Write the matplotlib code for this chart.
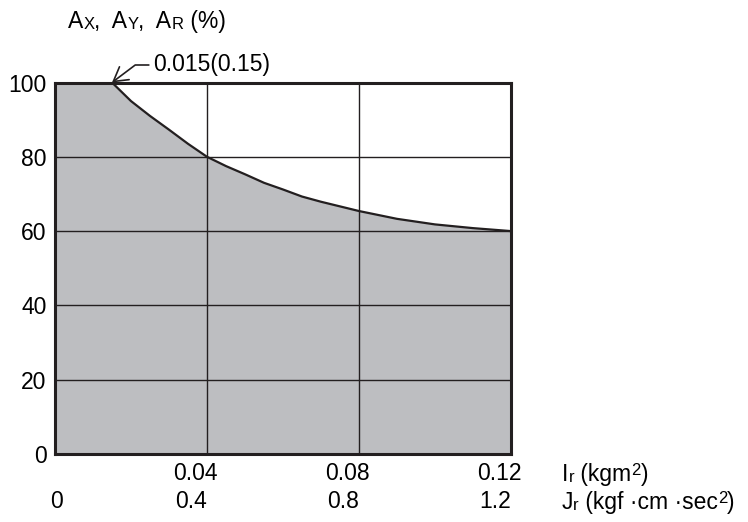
import matplotlib
matplotlib.use("Agg")
import matplotlib.pyplot as plt
import matplotlib.transforms as mtransforms

plt.rcParams['font.family'] = ['Liberation Sans', 'DejaVu Sans']

# curve: allowable acceleration (%) vs load inertia Ir (kgm2)
ir = [0.015, 0.02, 0.025, 0.03, 0.035, 0.04, 0.045, 0.05, 0.055, 0.06, 0.065,
      0.07, 0.08, 0.09, 0.10, 0.11, 0.12]
pct = [100, 95, 91, 87.3, 83.5, 80, 77.5, 75.3, 73, 71.2, 69.3,
       67.9, 65.4, 63.3, 61.8, 60.8, 60]

ir_ticks = [0.04, 0.08, 0.12]
ir_labels = ['0.04', '0.08', '0.12']
jr_ticks = [0, 0.04, 0.08, 0.12]
jr_labels = ['0', '0.4', '0.8', '1.2']
y_ticks = [0, 20, 40, 60, 80, 100]

FS = 16.5
SMALL = 12

fig = plt.figure(figsize=(7.48, 5.22), dpi=100)
ax = fig.add_axes([55/748, 1-454/522, (511-55)/748, (454-82.5)/522])

ax.fill_between([0] + ir, [100] + pct, 0, color='#bdbec1', lw=0, zorder=1)
ax.plot(ir, pct, color='#231f20', lw=1.6, zorder=3)

ax.set_xlim(0, 0.12)
ax.set_ylim(0, 100)
ax.set_xticks(ir_ticks[:-1])
ax.set_xticklabels([])
ax.set_yticks(y_ticks)
ax.set_yticklabels([str(v) for v in y_ticks], fontsize=FS)
ax.tick_params(length=0, pad=6)
ax.grid(True, color='#231f20', lw=1.0, zorder=2)
ax.set_axisbelow(False)
for s in ax.spines.values():
    s.set_linewidth(2.2)
    s.set_color('#231f20')
    s.set_zorder(4)

# x labels, two rows (Ir and Jr)
blend = mtransforms.blended_transform_factory(ax.transData, fig.transFigure)
for t, lab in zip(ir_ticks, ir_labels):
    tr = mtransforms.offset_copy(blend, fig=fig, x=11, y=0, units='dots')
    fig.text(t, 1-474/522, lab, transform=tr, ha='right', va='center', fontsize=FS)
for t, lab in zip(jr_ticks, jr_labels):
    dx = 8 if t == 0 else 0
    tr = mtransforms.offset_copy(blend, fig=fig, x=dx, y=0, units='dots')
    fig.text(t, 1-502/522, lab, transform=tr, ha='right', va='center', fontsize=FS)


def chain(x, y, pieces):
    # draws text pieces one after the other, mixed sizes on one line
    prev = fig.text(x, y, pieces[0][0], fontsize=pieces[0][1], va='baseline')
    for txt, size, rise in pieces[1:]:
        prev = ax.annotate(txt, xy=(1, 0), xycoords=prev, xytext=(0, rise),
                           textcoords='offset points', fontsize=size,
                           va='bottom', ha='left', annotation_clip=False)
    return prev


fig.canvas.draw()
chain(68/748, 1-28/522, [('A', FS, 0), ('X', SMALL, 1), (',  A', FS, -1), ('Y', SMALL, 1),
                         (',  A', FS, -1), ('R', SMALL, 1), (' (%)', FS, -1)])
chain(562/748, 1-481/522, [('I', FS, 0), ('r', SMALL, 1), (' (kgm', FS, -1),
                           ('2', SMALL, 5.5), (')', FS, -5.5)])
chain(562/748, 1-509/522, [('J', FS, 0), ('r', SMALL, 1), (' (kgf \u00b7cm \u00b7sec', FS, -1),
                           ('2', SMALL, 5.5), (')', FS, -5.5)])

# start-of-curve callout
ax.annotate('0.015(0.15)', xy=(ir[0], pct[0]), xycoords='data',
            xytext=(153/748, 1-65/522), textcoords='figure fraction',
            fontsize=FS, ha='left', va='center', annotation_clip=False,
            arrowprops=dict(arrowstyle='->,head_length=0.6,head_width=0.35',
                            color='#231f20', lw=1.2, shrinkA=1, shrinkB=0,
                            connectionstyle='angle,angleA=0,angleB=37,rad=0'))

fig.savefig('out.png', dpi=100)
